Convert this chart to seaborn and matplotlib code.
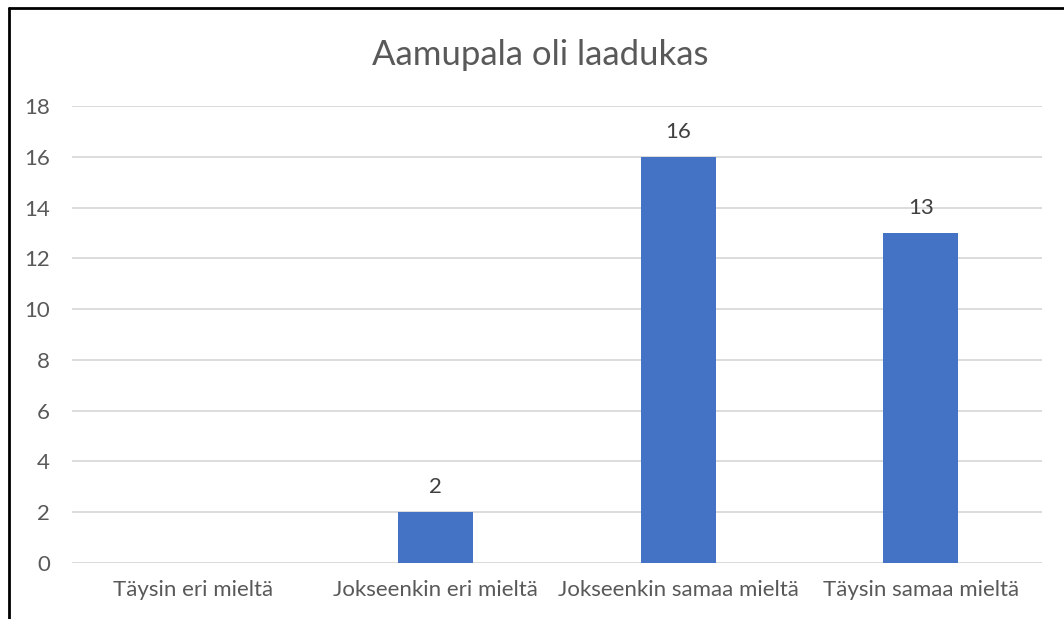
import seaborn as sns
import matplotlib.pyplot as plt
import pandas as pd
from matplotlib.lines import Line2D

categories = ['Täysin eri mieltä', 'Jokseenkin eri mieltä', 'Jokseenkin samaa mieltä', 'Täysin samaa mieltä']
values = [0, 2, 16, 13]
yticks = [0, 2, 4, 6, 8, 10, 12, 14, 16, 18]

sns.set_style("white")
plt.rcParams['font.family'] = ['Lato', 'DejaVu Sans']

df = pd.DataFrame({'category': categories, 'count': values})

fig = plt.figure(figsize=(10.64, 6.19), dpi=100)
ax = fig.add_axes([72 / 1064, 56 / 619, 970 / 1064, 457 / 619])

sns.barplot(data=df, x='category', y='count', color='#4472C4', width=0.31,
            saturation=1, linewidth=0, ax=ax, zorder=3)

ax.set_ylim(0, 18)
ax.set_xlim(-0.5, 3.5)
ax.set_yticks(yticks)
ax.yaxis.grid(True, color='#D9D9D9', linewidth=1.3, zorder=0)
ax.set_axisbelow(True)
for s in ax.spines.values():
    s.set_visible(False)
ax.tick_params(axis='both', length=0, labelsize=16, colors='#595959')
ax.tick_params(axis='x', pad=12)
ax.tick_params(axis='y', pad=16)
ax.set_xlabel('')
ax.set_ylabel('')

for i, v in enumerate(values):
    if v > 0:
        ax.text(i, v + 0.6, str(v), ha='center', va='bottom', fontsize=16, color='#404040')

fig.text(540 / 1064, 1 - 55 / 619, 'Aamupala oli laadukas', ha='center', va='center',
         fontsize=25, color='#595959')

# chart border (left and top visible)
fig.add_artist(Line2D([9 / 1064, 9 / 1064], [0, 1 - 8 / 619], transform=fig.transFigure,
                      color='black', linewidth=2))
fig.add_artist(Line2D([9 / 1064, 1], [1 - 8 / 619, 1 - 8 / 619], transform=fig.transFigure,
                      color='black', linewidth=2))

fig.savefig('out.png', dpi=100, facecolor='white')
plt.close(fig)
